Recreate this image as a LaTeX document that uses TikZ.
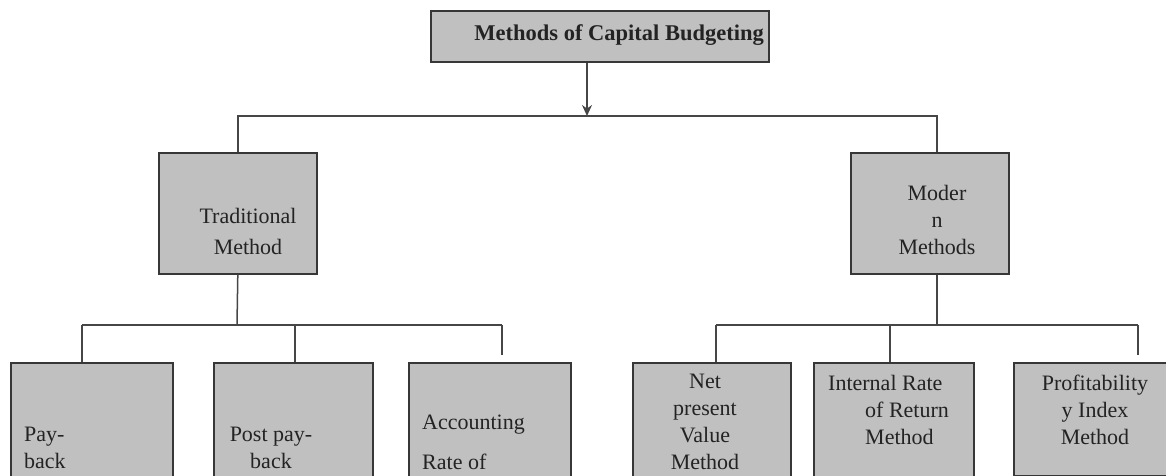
\documentclass[tikz,border=0pt]{standalone}
\usepackage{fontspec}
\setmainfont{Liberation Serif}
\usetikzlibrary{arrows.meta}
\definecolor{boxfill}{RGB}{192,192,192}
\definecolor{boxline}{RGB}{55,55,55}
\definecolor{linecol}{RGB}{70,70,70}
\definecolor{txt}{RGB}{35,35,35}
\begin{document}
\begin{tikzpicture}[x=1pt,y=-1pt,
  box/.style={draw=boxline, fill=boxfill, line width=1.6pt, inner sep=0pt, anchor=north west},
  conn/.style={draw=linecol, line width=1.5pt},
  lbl/.style={inner sep=0pt, text=txt, font=\rmfamily\fontsize{22}{27}\selectfont}]
\clip (0,0) rectangle (1166,476);
\fill[white] (0,0) rectangle (1166,476);

% boxes
\node[box, minimum width=338pt, minimum height=51pt] (top) at (430,10) {};
\node[box, minimum width=158pt, minimum height=121pt] (trad) at (158,152) {};
\node[box, minimum width=158pt, minimum height=121pt] (modern) at (850,152) {};
\node[box, minimum width=162pt, minimum height=150pt] (pay) at (10,362) {};
\node[box, minimum width=159pt, minimum height=150pt] (post) at (213,362) {};
\node[box, minimum width=162pt, minimum height=150pt] (acc) at (408,362) {};
\node[box, minimum width=158pt, minimum height=150pt] (npv) at (632,362) {};
\node[box, minimum width=160pt, minimum height=150pt] (irr) at (813,362) {};
\node[box, minimum width=180pt, minimum height=113pt] (prof) at (1013,362) {};

% texts
\node[lbl, anchor=east, font=\rmfamily\fontsize{22.5}{27}\selectfont\bfseries] (topt) at (764,35) {Methods of Capital Budgeting};
\node[lbl, align=center, font=\rmfamily\fontsize{22}{31}\selectfont] (tradt) at (248,231) {Traditional\\Method};
\node[lbl, align=center] (modernt) at (937,220) {Moder\\n\\Methods};
\node[lbl, align=left, anchor=west] (payt) at (24,448) {Pay-\\back};
\node[lbl, align=center] (postt) at (271,448) {Post pay-\\back};
\node[lbl, align=left, anchor=west, font=\rmfamily\fontsize{22}{40}\selectfont] (acct) at (422,442) {Accounting\\Rate of};
\node[lbl, align=center] (npvt) at (705,422) {Net\\present\\Value\\Method};
\node[lbl, align=left, anchor=west] (irrt) at (828,410) {Internal Rate\\\hspace*{37pt}of Return\\\hspace*{37pt}Method};
\node[lbl, align=center] (proft) at (1095,410) {Profitability\\y Index\\Method};

% top connectors
\coordinate (bus1) at (587,116);
\coordinate (mj) at (937,116);
\draw[conn, -{Stealth[length=11pt,width=10pt]}] (top.south -| bus1) -- (bus1);
\draw[conn] (trad.north) |- (mj) -- (mj |- modern.north);

% traditional branch
\coordinate (tb) at (237,325);
\coordinate (tbl) at (82,325);
\coordinate (tbm) at (295,325);
\coordinate (tbr) at (502,325);
\coordinate (tbe) at (502,355);
\draw[conn] (trad.south) -- (tb);
\draw[conn] (tbl) -- (tbr);
\draw[conn] (tbl) -- (tbl |- pay.north);
\draw[conn] (tbm) -- (tbm |- post.north);
\draw[conn] (tbr) -- (tbe);

% modern branch
\coordinate (mb) at (937,325);
\coordinate (mbl) at (716,325);
\coordinate (mbm) at (890,325);
\coordinate (mbr) at (1138,325);
\coordinate (mbe) at (1138,355);
\draw[conn] (modern.south -| mb) -- (mb);
\draw[conn] (mbl) -- (mbr);
\draw[conn] (mbl) -- (mbl |- npv.north);
\draw[conn] (mbm) -- (mbm |- irr.north);
\draw[conn] (mbr) -- (mbe);
\end{tikzpicture}
\end{document}
